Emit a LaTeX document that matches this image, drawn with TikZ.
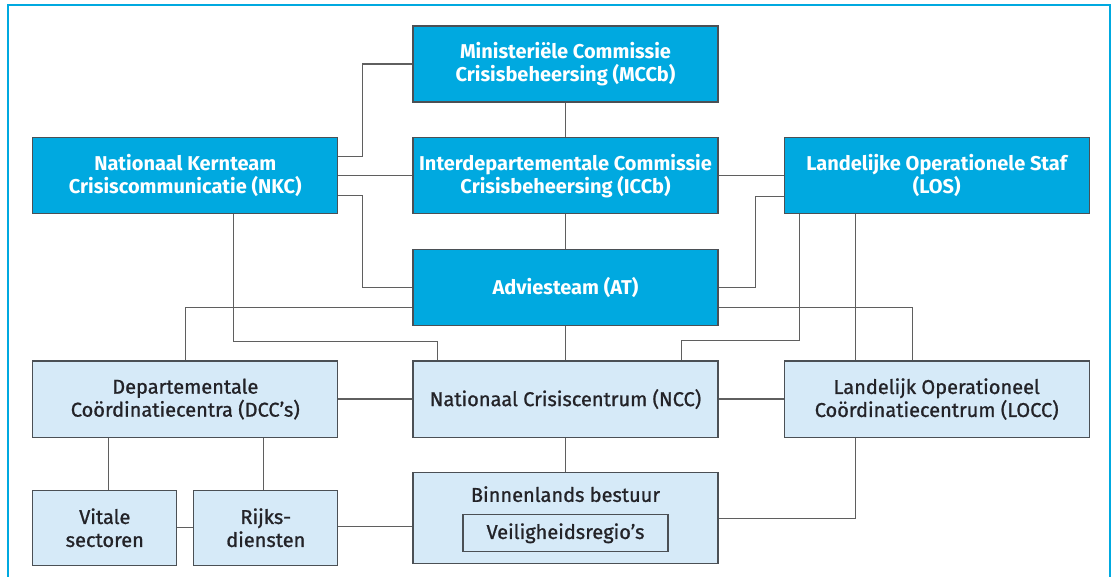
\documentclass[tikz,border=0pt]{standalone}
\usepackage{fontspec}
\setmainfont{Fira Sans}
\newfontfamily\medfont[FakeBold=1]{Fira Sans}
\usetikzlibrary{calc,positioning}
\definecolor{rijkblue}{RGB}{0,169,224}
\definecolor{rijklight}{RGB}{214,234,248}
\definecolor{rijkdark}{RGB}{75,80,85}
\definecolor{rijkline}{RGB}{95,95,95}
\definecolor{rijktext}{RGB}{35,35,40}
\tikzset{
  link/.style={line width=1.3pt, draw=rijkline},
  box/.style={
    draw=rijkdark,
    line width=1.2pt,
    align=center,
    inner sep=2pt,
    minimum width=305pt,
    minimum height=76pt,
    font=\fontsize{20}{23}\selectfont\medfont
  },
  bluebox/.style={box, fill=rijkblue, text=white, font=\fontsize{20}{23}\selectfont\bfseries},
  lightbox/.style={box, fill=rijklight, text=rijktext},
  smallbox/.style={lightbox, minimum width=144pt, minimum height=75pt},
  regiobox/.style={lightbox, minimum width=205pt, minimum height=37pt},
  titletext/.style={text=rijktext, inner sep=0pt, font=\fontsize{20}{23}\selectfont\medfont},
  outerframe/.style={draw=rijkblue, line width=1.5pt}
}

\begin{document}
\begin{tikzpicture}[x=1pt, y=-1pt, node distance=34.5pt and 74pt]
  \useasboundingbox (0,0) rectangle (1114,577);
  \draw[outerframe] (8,577) |- (1110,5) -- (1110,577);

  \node[bluebox] (mccb) at (565.5,64) {Ministeriële Commissie\\Crisisbeheersing (MCCb)};
  \node[bluebox, below=of mccb] (iccb) {Interdepartementale Commissie\\Crisisbeheersing (ICCb)};
  \node[bluebox, below=of iccb] (at) {Adviesteam (AT)};
  \node[lightbox, below=of at] (ncc) {Nationaal Crisiscentrum (NCC)};
  \node[lightbox, below=of ncc, minimum height=91pt] (bb) {};
  \node[titletext] (bbtitle) at ($(bb.north)+(0,22)$) {Binnenlands bestuur};
  \node[regiobox] (vr) at ($(bb.center)+(0,15)$) {Veiligheidsregio’s};

  \node[bluebox, left=of iccb] (nkc) {Nationaal Kernteam\\Crisiscommunicatie (NKC)};
  \node[bluebox, right=65pt of iccb] (los) {Landelijke Operationele Staf\\(LOS)};
  \node[lightbox, left=of ncc] (dcc) {Departementale\\Coördinatiecentra (DCC’s)};
  \node[lightbox, right=65pt of ncc] (locc) {Landelijk Operationeel\\Coördinatiecentrum (LOCC)};
  \node[smallbox, below right=52pt and 0pt of dcc.south west] (vitale) {Vitale\\sectoren};
  \node[smallbox, below left=52pt and 0pt of dcc.south east] (rijks) {Rijks-\\diensten};

  \draw[link] (mccb) -- (iccb);
  \draw[link] (iccb) -- (at);
  \draw[link] (at) -- (ncc);
  \draw[link] (ncc) -- (bb);
  \draw[link] (nkc) -- (iccb);
  \draw[link] (iccb) -- (los);
  \draw[link] (dcc) -- (ncc);
  \draw[link] (ncc) -- (locc);
  \draw[link] (vitale) -- (rijks);

  \draw[link] (mccb.west) -| ($(nkc.east)+(24,-19)$) -- ($(nkc.east)+(0,-19)$);
  \draw[link] ($(nkc.east)+(0,20)$) -| ($(at.west)+(-50,0)$) -- (at.west);
  \draw[link] ($(at.west)+(0,20)$) -| (dcc.north);
  \draw[link] ($(nkc.south)+(48,0)$) |- ($(ncc.north)+(-128,-19)$) -- ($(ncc.north)+(-128,0)$);
  \draw[link] ($(los.west)+(0,21)$) -| ($(at.east)+(37,0)$) -- (at.east);
  \draw[link] ($(at.east)+(0,20)$) -| ($(locc.north)+(-24,0)$);
  \draw[link] ($(los.south)+(-137,0)$) |- ($(ncc.north)+(116,-20)$) -- ($(ncc.north)+(116,0)$);
  \draw[link] ($(los.south)+(-81,0)$) -- ($(locc.north)+(-81,0)$);
  \draw[link] ($(vitale.north)+(4,0)$) -- ($(vitale.north |- dcc.south)+(4,0)$);
  \draw[link] ($(rijks.north)+(-2,0)$) -- ($(rijks.north |- dcc.south)+(-2,0)$);
  \draw[link] ($(rijks.east)+(0,-1)$) -- ($(rijks.east -| bb.west)+(0,-1)$);
  \draw[link] (bb.east) -| ($(locc.south)+(-81,0)$);
\end{tikzpicture}
\end{document}
